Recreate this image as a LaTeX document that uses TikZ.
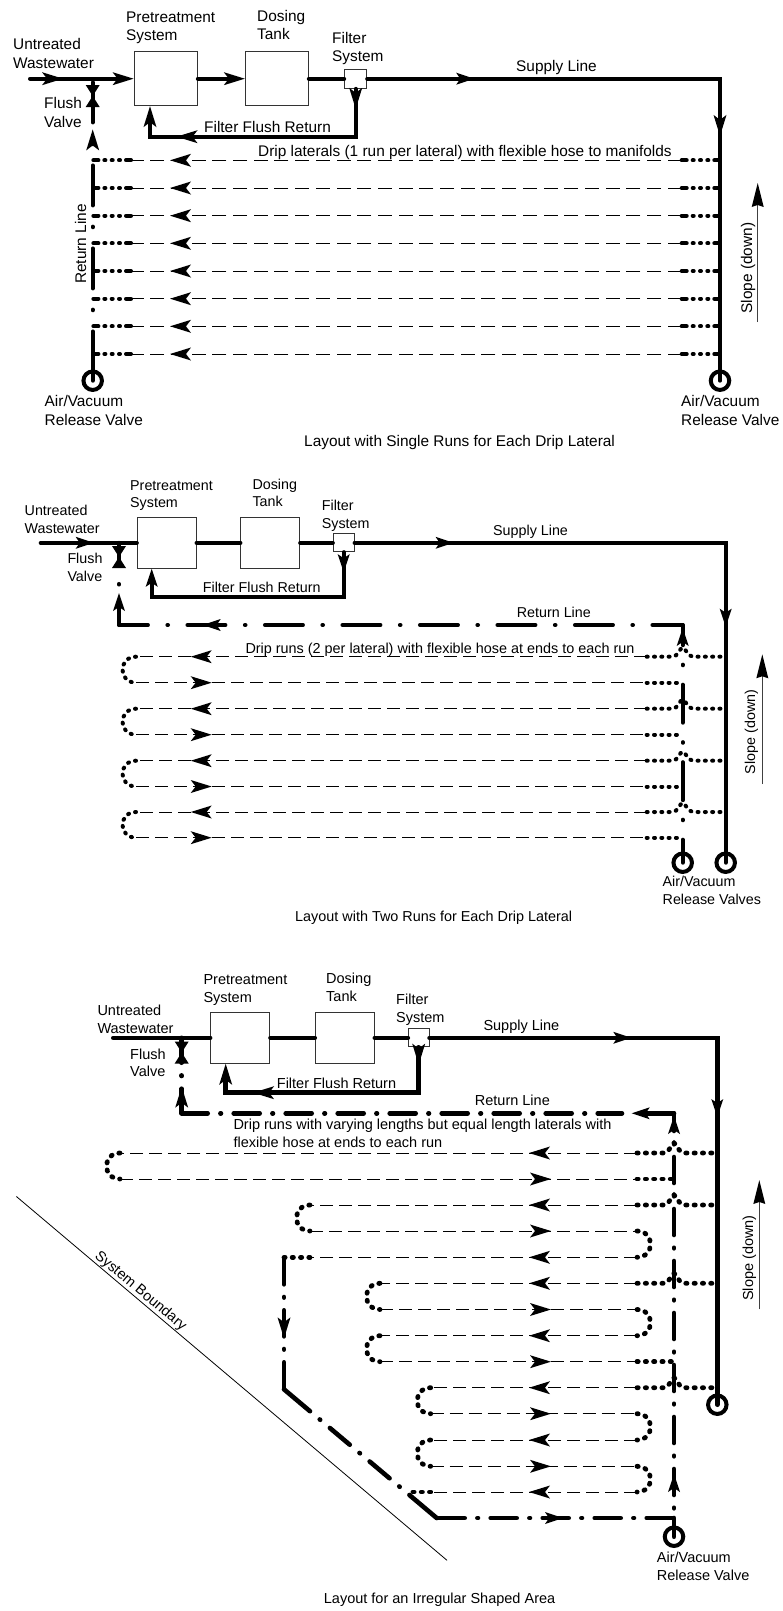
\documentclass[tikz,border=0pt]{standalone}
\usepackage{fontspec}
\setmainfont{Liberation Sans}
\usetikzlibrary{arrows.meta,decorations.markings}
\tikzset{
  bighead/.tip={Stealth[length=21pt,width=13pt,inset=5pt,line width=0pt]},
  smallhead/.tip={Stealth[length=18pt,width=12pt,inset=4pt,line width=0pt]},
  big at/.style={postaction={decorate,decoration={markings,mark=at position #1 with {\arrow{bighead}}}}},
  small at/.style={postaction={decorate,decoration={markings,mark=at position #1 with {\arrow{smallhead}}}}},
  bowtie/.pic={\fill (-7,-11) -- (7,-11) -- (-7,11) -- (7,11) -- cycle;}
}
\begin{document}
\begin{tikzpicture}[
  x=1pt,y=-1pt,
  box/.style={draw=black!80,line width=1pt,inner sep=0pt},
  pipe/.style={line width=4pt,line cap=round},
  pipec/.style={line width=4.6pt,line cap=round},
  vlv/.style={circle,draw,line width=4pt,minimum size=18.5pt,inner sep=0pt},
  drip/.style={line width=1pt,dash pattern=on 14pt off 6.7pt},
  dripb/.style={line width=1pt,dash pattern=on 13pt off 6pt},
  hosea/.style={line width=4pt,line cap=round,dash pattern=on 5pt off 6pt on 1pt off 6.3pt on 1pt off 6.3pt on 1pt off 6pt on 5pt off 9pt},
  hose/.style={line width=4pt,line cap=round,dash pattern=on 1pt off 6.3pt},
  hosec/.style={line width=4.8pt,line cap=round,dash pattern=on 1.2pt off 7.1pt},
  reta/.style={pipe,dash pattern=on 40pt off 21.2pt on 0.6pt off 21.2pt},
  retb/.style={pipe,dash pattern=on 38pt off 19.45pt on 0.6pt off 19.45pt},
  retc/.style={pipec,dash pattern=on 26pt off 12.7pt on 0.6pt off 12.7pt},
  slp/.style={draw=black!75,line width=1pt,-{Stealth[length=24pt,width=12pt,inset=2pt,line width=0pt,color=black]}},
  laba/.style={align=left,inner sep=0pt,anchor=base west,font=\fontsize{15.4}{18.3}\selectfont},
  labb/.style={align=left,inner sep=0pt,anchor=base west,font=\fontsize{14.3}{17.5}\selectfont},
  labd/.style={labb,font=\fontsize{14.4}{17.5}\selectfont},
  labc/.style={align=left,inner sep=0pt,anchor=base west,font=\fontsize{14.5}{17.4}\selectfont}
]
\useasboundingbox (0,0) rectangle (782,1611);

% layout with single runs
\node[box,minimum width=63.3pt,minimum height=54pt] (pta) at (165.7,78.7) {};
\node[box,minimum width=63pt,minimum height=54pt] (dta) at (276.8,78.7) {};
\node[box,minimum width=22pt,minimum height=19.3pt] (fta) at (355.7,78.7) {};
\node[vlv] (vla) at (92.7,380.7) {};
\node[vlv] (vra) at (720,380.7) {};
\coordinate (ina) at (30,78.7);
\coordinate (ja) at (92.7,78.7);
\coordinate (spa) at (720,78.7);
\coordinate (fla) at (355.7,136.7);
\coordinate (fra) at (150,136.7);
\pic at (92.7,96) {bowtie};
\draw[pipe,big at=33pt,-bighead] (ina) -- (pta.west);
\draw[pipe,-bighead] (pta.east) -- (dta.west);
\draw[pipe] (dta.east) -- (fta.west);
\draw[pipe,small at=107pt,big at=410pt] (fta.east) -- (spa) -- (vra.center);
\draw[pipe,big at=20pt,big at=227pt,-bighead] (fta.south) -- (fla) -- (fra) -- (pta.south -| fra);
\draw[pipe] (vla.center) -- (vla.north);
\draw[reta,dash phase=2pt,big at=240pt] (vla.north) -- (ja);
\foreach \i/\y in {1/160.3,2/188,3/215.7,4/243.3,5/271,6/298.7,7/326.3,8/354} {
  \coordinate (ra\i) at (681.7,\y);
  \coordinate (la\i) at (131,\y);
  \draw[drip,big at=511.7pt] (ra\i) -- (la\i);
  \draw[hosea] (la\i) -- (la\i -| vla);
  \draw[hosea] (ra\i) -- (ra\i -| vra);
}
\node[laba] (uta) at (13,68) {Untreated\\Wastewater};
\node[laba] (pna) at (126,41) {Pretreatment\\System};
\node[laba] (dna) at (257,40) {Dosing\\Tank};
\node[laba] (fna) at (332,62) {Filter\\System};
\node[laba] (fva) at (44,127) {Flush\\Valve};
\node[laba] (rfa) at (204,132) {Filter Flush Return};
\node[laba] (dla) at (258,156) {Drip laterals (1 run per lateral) with flexible hose to manifolds};
\node[laba] (sla) at (516,71) {Supply Line};
\node[laba,anchor=base,rotate=90] (rla) at (86,244) {Return Line};
\node[laba,anchor=base,rotate=90] (sda) at (752,268) {Slope (down)};
\node[laba] (ava) at (44.5,425) {Air/Vacuum\\Release Valve};
\node[laba] (awa) at (681,425) {Air/Vacuum\\Release Valve};
\node[laba] (cpa) at (304,446) {Layout with Single Runs for Each Drip Lateral};
\coordinate (sba) at (757.7,322);
\coordinate (sta) at (757.7,183);
\draw[slp] (sba) -- (sta);

% layout with two runs
\node[box,minimum width=58.7pt,minimum height=51pt] (ptb) at (166.7,542.8) {};
\node[box,minimum width=58.7pt,minimum height=51pt] (dtb) at (270.3,542.8) {};
\node[box,minimum width=20.7pt,minimum height=17.7pt] (ftb) at (343.7,542.8) {};
\node[vlv] (vlb) at (682.7,862.7) {};
\node[vlv] (vrb) at (725.7,862.7) {};
\coordinate (inb) at (40.7,542.8);
\coordinate (jb) at (119,542.8);
\coordinate (spb) at (725.7,542.8);
\coordinate (flb) at (343.7,597.3);
\coordinate (frb) at (151.7,597.3);
\coordinate (fvb) at (119,557);
\coordinate (ctb) at (119,625);
\coordinate (cub) at (682.7,625);
\pic at (fvb) {bowtie};
\draw[pipe,small at=53pt] (inb) -- (ptb.west);
\draw[pipe] (ptb.east) -- (dtb.west);
\draw[pipe] (dtb.east) -- (ftb.west);
\draw[pipe,small at=99pt,small at=455pt] (ftb.east) -- (spb) -- (vrb.center);
\draw[pipe,small at=20pt,small at=359pt,-smallhead] (ftb.south) -- (flb) -- (frb) -- (ptb.south -| frb);
\draw[pipe] (jb) -- (fvb);
\draw[retb,dash phase=17pt,small at=32pt] (ctb) -- (fvb);
\draw[retb,dash phase=7.75pt,small at=480pt] (cub) -- (ctb);
\draw[retb,dash phase=15pt,small at=234.7pt] (vlb.center) -- (cub);
\foreach \i/\y in {1/656.7,2/682.7,3/708.7,4/734.7,5/760.7,6/786.5,7/812,8/837.7} {
  \coordinate (lb\i) at (136,\y);
  \coordinate (rb\i) at (646.7,\y);
}
\foreach \i in {1,3,5,7} {
  \draw[dripb,big at=456pt] (rb\i) -- (lb\i);
  \draw[hose] (rb\i) -- ++(25.5,0) .. controls +(6,0) and +(-3,0) .. ++(10.5,-9) .. controls +(3,0) and +(-6,0) .. ++(10.5,9) -- (rb\i -| vrb);
}
\foreach \i in {2,4,6,8} {
  \draw[dripb,big at=75.7pt] (lb\i) -- (rb\i);
  \draw[hose] (rb\i) -- (rb\i -| vlb);
}
\foreach \p/\q in {1/2,3/4,5/6,7/8} {
  \draw[hose] (lb\p) .. controls +(-18,0) and +(-18,0) .. (lb\q);
}
\node[labb] (utb) at (24.5,533) {Untreated\\Wastewater};
\node[labb] (pnb) at (130,507.7) {Pretreatment\\System};
\node[labb] (dnb) at (252.3,506.7) {Dosing\\Tank};
\node[labb] (fnb) at (321.7,528) {Filter\\System};
\node[labb] (fvb2) at (67.3,581) {Flush\\Valve};
\node[labb] (rfb) at (202.7,592.7) {Filter Flush Return};
\node[labd] (dlb) at (245.3,653.3) {Drip runs (2 per lateral) with flexible hose at ends to each run};
\node[labb] (slb) at (493,535) {Supply Line};
\node[labb] (rlb) at (516.7,617.7) {Return Line};
\node[labb,anchor=base,rotate=90] (sdb) at (755,732) {Slope (down)};
\node[labb] (avb) at (662.5,904.3) {Air/Vacuum\\Release Valves};
\node[labd] (cpb) at (295,921.7) {Layout with Two Runs for Each Drip Lateral};
\coordinate (sbb) at (762.3,784);
\coordinate (stb) at (762.3,654.3);
\draw[slp] (sbb) -- (stb);

% layout for the irregular area
\node[box,minimum width=59.3pt,minimum height=51pt] (ptc) at (240.3,1037.8) {};
\node[box,minimum width=59pt,minimum height=51pt] (dtc) at (344.8,1037.8) {};
\node[box,minimum width=20.7pt,minimum height=18pt] (ftc) at (418.7,1037.8) {};
\node[vlv] (vlc) at (674,1536.7) {};
\node[vlv] (vrc) at (717.3,1404.7) {};
\coordinate (inc) at (113.3,1037.8);
\coordinate (jc) at (181.7,1037.8);
\coordinate (spc) at (717.3,1037.8);
\coordinate (flc) at (418.7,1092.7);
\coordinate (frc) at (225.7,1092.7);
\coordinate (fvc) at (181.7,1052.5);
\coordinate (ctc) at (181.7,1113.3);
\coordinate (cuc) at (674,1113.3);
\coordinate (hdc) at (631.7,1113.3);
\coordinate (hec) at (622,1113.3);
\coordinate (bmc) at (674,1518);
\coordinate (bdc) at (436.7,1518);
\coordinate (wdc) at (284,1389.3);
\coordinate (wuc) at (284,1257.3);
\coordinate (sdc) at (406.7,1492);
\pic at (fvc) {bowtie};
\draw[pipec] (inc) -- (ptc.west);
\draw[pipec] (ptc.east) -- (dtc.west);
\draw[pipec] (dtc.east) -- (ftc.west);
\draw[pipec,small at=201.7pt,small at=367pt] (ftc.east) -- (spc) -- (vrc.center);
\draw[pipec,big at=17.3pt,big at=211pt,-bighead] (ftc.south) -- (flc) -- (frc) -- (ptc.south -| frc);
\draw[pipec] (jc) -- (fvc);
\draw[retc,dash phase=1.4pt,big at=26.6pt] (ctc) -- (fvc);
\draw[retc] (ctc) -- (hec);
\draw[pipec,-smallhead] (cuc) -- (hdc);
\draw[pipec] (vlc.center) -- (bmc);
\draw[retc,dash phase=29pt,small at=44pt,small at=402pt] (bmc) -- (cuc);
\draw[retc,dash phase=50pt,small at=126.3pt] (bdc) -- (bmc);
\draw[pipec,dash pattern=on 34pt off 12.7pt on 0.6pt off 12.7pt on 26pt off 12.7pt on 0.6pt off 12.7pt on 26pt off 12.7pt on 0.6pt off 12.7pt on 36pt] (wdc) -- (bdc);
\draw[retc,dash phase=51pt,big at=81pt] (wuc) -- (wdc);
\foreach \i/\xa/\y in {0/120/1153,1/120/1179,2/310/1205,3/310/1231,4/310/1257.3,5/380/1283.3,6/380/1309.5,7/380/1335.7,8/380/1361.7,9/430.7/1387.7,10/430.7/1413.7,11/430.7/1440,12/430.7/1466.3,13/430.7/1492} {
  \coordinate (lc\i) at (\xa,\y);
  \coordinate (rc\i) at (637,\y);
}
\foreach \i in {0,2,4,5,7,9,11,13} {
  \draw[dripb,big at=108pt] (rc\i) -- (lc\i);
}
\foreach \i in {1,3,6,8,10,12} {
  \draw[dripb,big at=-86pt] (lc\i) -- (rc\i);
}
\foreach \p/\q in {0/1,2/3,5/6,7/8,9/10,11/12} {
  \draw[hosec] (lc\p) .. controls +(-18,0) and +(-18,0) .. (lc\q);
}
\foreach \p/\q in {3/4,6/7,10/11,12/13} {
  \draw[hosec] (rc\p) .. controls +(18,0) and +(18,0) .. (rc\q);
}
\foreach \i in {0,2,5,9} {
  \draw[hosec] (rc\i) -- ++(27,0) .. controls +(6,0) and +(-3,0) .. ++(10,-10) .. controls +(3,0) and +(-6,0) .. ++(10,10) -- (rc\i -| vrc);
}
\foreach \i in {1,8} {
  \draw[hosec] (rc\i) -- (rc\i -| vlc);
}
\draw[hosec] (lc4) -- (wuc);
\draw[hosec] (lc13) -- (sdc);
\coordinate (bda) at (16.4,1196.5);
\coordinate (bdb) at (447,1560.3);
\draw[line width=0.8pt] (bda) -- (bdb);
\node[labc] (utc) at (97.3,1033.3) {Untreated\\Wastewater};
\node[labc] (pnc) at (203.3,1002.3) {Pretreatment\\System};
\node[labc] (dnc) at (326,1001) {Dosing\\Tank};
\node[labc] (fnc) at (396,1022.3) {Filter\\System};
\node[labc] (fvc2) at (130,1076.7) {Flush\\Valve};
\node[labc] (rfc) at (276.7,1088.3) {Filter Flush Return};
\node[labc] (dlc) at (233.3,1147.3) {Drip runs with varying lengths but equal length laterals with\\flexible hose at ends to each run};
\node[labc] (slc) at (483.3,1030.7) {Supply Line};
\node[labc] (rlc) at (474.7,1105) {Return Line};
\node[labc,anchor=base,rotate=90] (sdc2) at (753,1258) {Slope (down)};
\node[labc,anchor=base,rotate=-40] (sbc) at (138,1294) {System Boundary};
\node[labc] (avc) at (656.7,1580) {Air/Vacuum\\Release Valve};
\node[labc] (cpc) at (323.7,1603) {Layout for an Irregular Shaped Area};
\coordinate (sbcb) at (759.3,1309.3);
\coordinate (sbct) at (759.3,1180);
\draw[slp] (sbcb) -- (sbct);
\end{tikzpicture}
\end{document}
